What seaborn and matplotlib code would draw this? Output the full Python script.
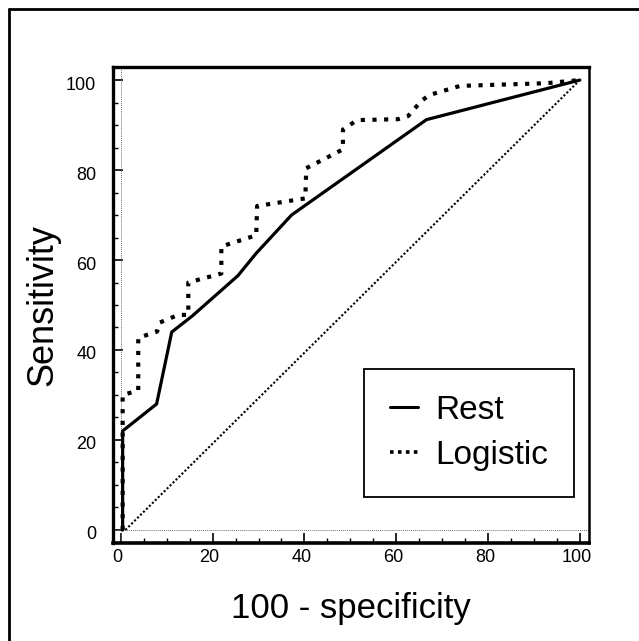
import matplotlib
matplotlib.use("Agg")
import matplotlib.pyplot as plt
from matplotlib.lines import Line2D
from matplotlib.ticker import MultipleLocator
from matplotlib.transforms import ScaledTranslation
import seaborn as sns
import pandas as pd

# ---- data ----
rest_x = [0.4, 0.4, 7.8, 11.1, 15.5, 25.5, 29.5, 37.2, 66.6, 100]
rest_y = [0, 22, 28, 44, 47.5, 56.5, 61.5, 70, 91.2, 100]

logistic_x = [0.4, 0.4, 3.8, 3.8, 7.9, 8.5, 12.5, 14.7, 14.7, 21.9, 21.9, 29.5,
              29.7, 40.2, 40.4, 48.4, 48.4, 51.5, 60.4, 62.6, 65.5, 67.3, 73.9,
              92.8, 100]
logistic_y = [0, 30, 31, 42.7, 44.1, 46.1, 47.8, 47.8, 55, 57, 63, 65.5,
              72, 73.7, 80.4, 84.6, 89, 91.1, 91.3, 92, 95.4, 96.7, 98.7,
              99.3, 100]

chance_x = [1, 100]
chance_y = [0, 100]

xticks = [0, 20, 40, 60, 80, 100]
yticks = [0, 20, 40, 60, 80, 100]
series_labels = ["Rest", "Logistic"]

sns.set_theme(style="white")
plt.rcParams["font.family"] = ["Liberation Sans", "DejaVu Sans"]
plt.rcParams["text.color"] = "black"
plt.rcParams["axes.labelcolor"] = "black"
plt.rcParams["xtick.color"] = "black"
plt.rcParams["ytick.color"] = "black"

fig = plt.figure(figsize=(6.39, 6.41), dpi=100)
ax = fig.add_axes([113 / 639, 1 - 543 / 641, 476 / 639, 476 / 641])

rest_df = pd.DataFrame({"x": rest_x, "y": rest_y})
log_df = pd.DataFrame({"x": logistic_x, "y": logistic_y})
ch_df = pd.DataFrame({"x": chance_x, "y": chance_y})

# reference lines at zero
ax.axvline(0, color="0.45", lw=0.7, ls=(0, (1, 1)), zorder=1)
ax.axhline(0, color="0.45", lw=0.7, ls=(0, (1, 1)), zorder=1)

sns.lineplot(data=ch_df, x="x", y="y", ax=ax, color="black", lw=1.5,
             linestyle=(0, (1, 1)), sort=False, estimator=None)
sns.lineplot(data=rest_df, x="x", y="y", ax=ax, color="black", lw=2.3,
             sort=False, estimator=None, solid_joinstyle="miter")
sns.lineplot(data=log_df, x="x", y="y", ax=ax, color="black", lw=3.0,
             linestyle=(0, (1, 1.8)), sort=False, estimator=None,
             dash_capstyle="butt")

ax.set_xlim(-1.7, 102)
ax.set_ylim(-2.9, 102.9)
ax.set_xticks(xticks)
ax.set_yticks(yticks)
ax.xaxis.set_minor_locator(MultipleLocator(5))
ax.yaxis.set_minor_locator(MultipleLocator(5))
ax.tick_params(which="major", direction="in", length=7, width=1.2,
               labelsize=13, colors="black", bottom=True, left=True)
ax.tick_params(which="minor", direction="in", length=3.5, width=1.0,
               bottom=True, left=True)
ax.tick_params(axis="x", pad=4)
ax.tick_params(axis="y", pad=12)

# slight offsets of tick labels as in the original print
for lab in ax.get_xticklabels():
    lab.set_transform(lab.get_transform() +
                      ScaledTranslation(-3 / 100, 0, fig.dpi_scale_trans))
for lab in ax.get_yticklabels():
    lab.set_transform(lab.get_transform() +
                      ScaledTranslation(0, -3 / 100, fig.dpi_scale_trans))

for side, lw in [("left", 2.4), ("bottom", 2.6), ("top", 2.4), ("right", 1.8)]:
    ax.spines[side].set_visible(True)
    ax.spines[side].set_color("black")
    ax.spines[side].set_linewidth(lw)

ax.set_xlabel("100 - specificity", fontsize=25, labelpad=19, color="black")
ax.set_ylabel("Sensitivity", fontsize=26, labelpad=4, color="black")

handles = [Line2D([], [], color="black", lw=2.2),
           Line2D([], [], color="black", lw=2.6, linestyle=(0, (1, 1.2)),
                  dash_capstyle="butt")]
leg = ax.legend(handles, series_labels, loc="upper left",
                bbox_to_anchor=(0.527, 0.3655), borderaxespad=0,
                fontsize=24, handlelength=0.85, handletextpad=0.5,
                labelspacing=0.42, borderpad=0.78, frameon=True,
                fancybox=False, framealpha=1)
leg.get_frame().set_edgecolor("black")
leg.get_frame().set_linewidth(1.3)
for t in leg.get_texts():
    t.set_color("black")

# outer figure frame (left and top edges visible)
fig.add_artist(Line2D([9 / 639, 9 / 639], [0, 1 - 9 / 641],
                      transform=fig.transFigure, color="black", lw=2))
fig.add_artist(Line2D([9 / 639, 1], [1 - 9 / 641, 1 - 9 / 641],
                      transform=fig.transFigure, color="black", lw=2))

fig.savefig("out.png", dpi=100)
